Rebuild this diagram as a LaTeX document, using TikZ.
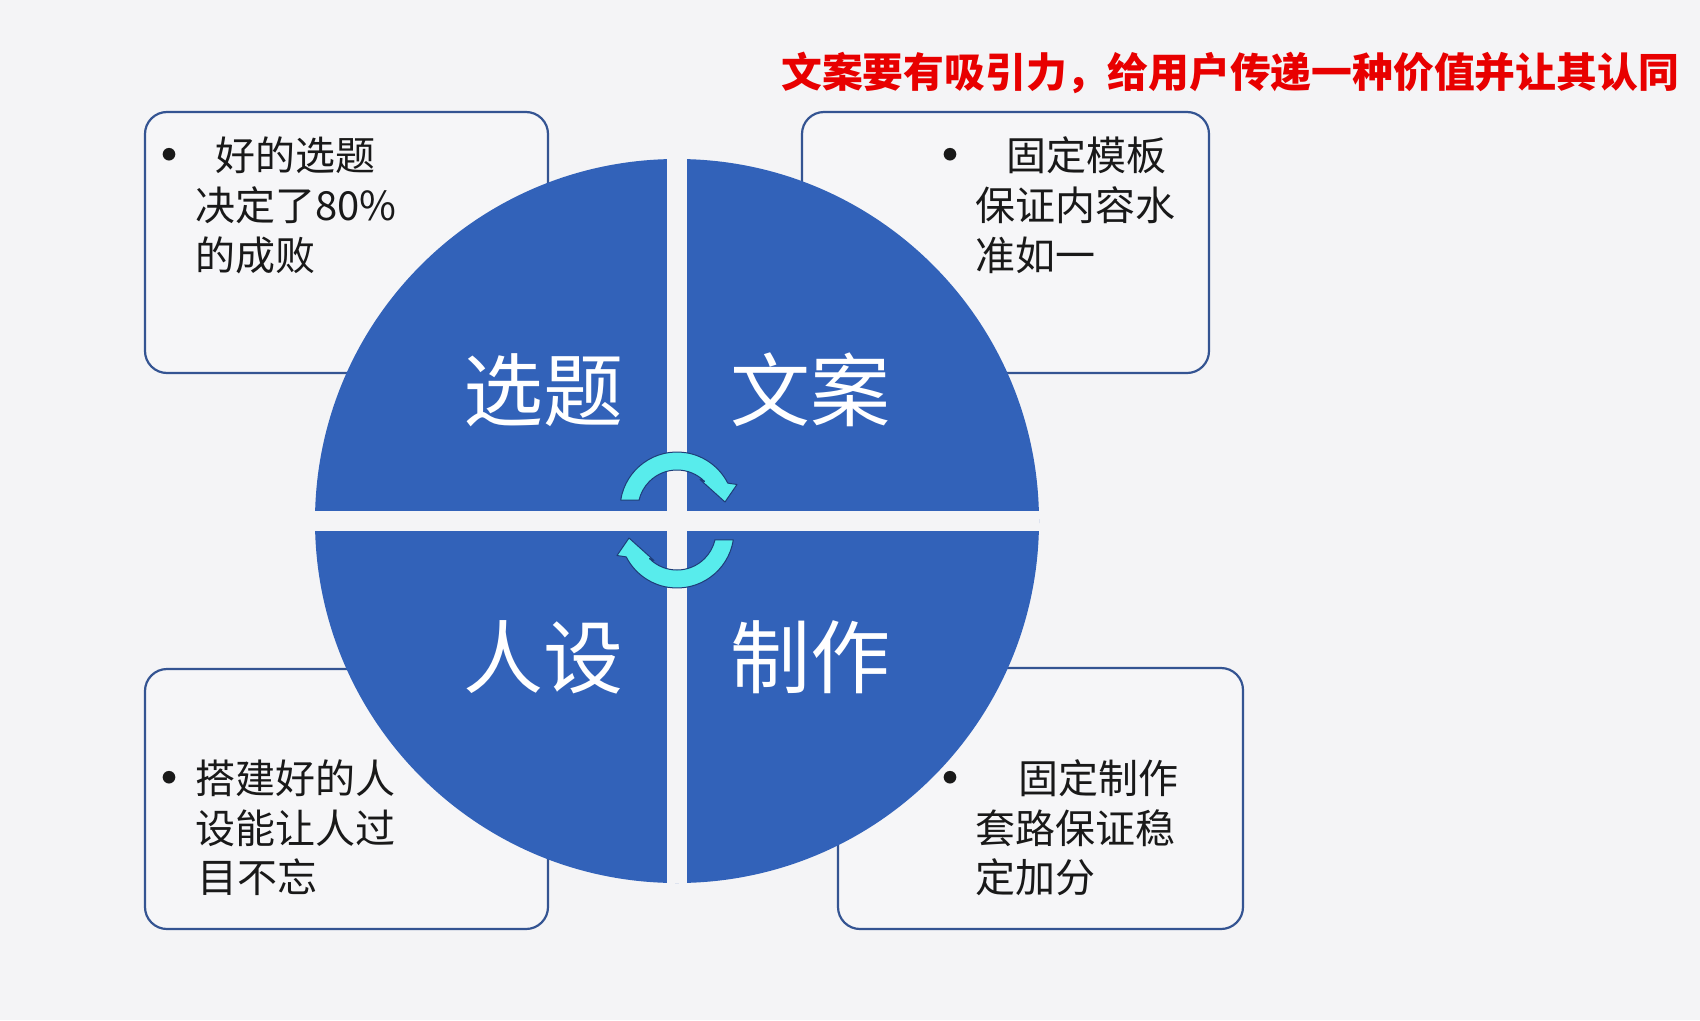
\documentclass[tikz,border=0pt]{standalone}
\usepackage{fontspec}
\newfontfamily\cjk{Noto Sans CJK SC}
\definecolor{bgc}{RGB}{244,244,246}
\definecolor{boxc}{RGB}{52,84,146}
\definecolor{boxfill}{RGB}{246,246,248}
\definecolor{qblue}{RGB}{50,98,185}
\definecolor{arrc}{RGB}{88,236,236}
\definecolor{arredge}{RGB}{30,60,120}
\definecolor{txtc}{RGB}{25,25,25}
\definecolor{titlered}{RGB}{232,0,0}
\begin{document}
\begin{tikzpicture}[x=1pt,y=-1pt,
  infobox/.style={draw=boxc, line width=2.2pt, fill=boxfill, rounded corners=22pt, inner sep=0pt},
  boxline/.style={anchor=base west, inner sep=0pt, text=txtc, font=\cjk\fontsize{40}{50}\selectfont},
  bul/.style={anchor=base, inner sep=0pt, text=txtc, font=\cjk\fontsize{60}{60}\selectfont},
  biglabel/.style={anchor=base, inner sep=0pt, text=white, font=\cjk\fontsize{80}{96}\selectfont},
  titletext/.style={anchor=base west, inner sep=0pt, text=titlered, font=\cjk\bfseries\fontsize{40.8}{48}\selectfont},
  cyc/.style={fill=arrc, draw=arredge, line width=1pt, line join=round},
  cycarrow/.pic={
    \path[cyc] (-171:57) arc[start angle=-171, end angle=-27, radius=57]
      -- (60,-24.5) -- (48,-7) -- (23,-29.5)
      -- (-45:39) arc[start angle=-45, end angle=-167, radius=39] -- cycle;
  }]
\useasboundingbox (0,0) rectangle (1700,1020);
\fill[bgc] (0,0) rectangle (1700,1020);

% title
\node[titletext] (title) at (781,87) {文案要有吸引力，给用户传递一种价值并让其认同};

% boxes
\node[infobox, minimum width=403pt, minimum height=261pt] (tl) at (346.5,242.5) {};
\node[infobox, minimum width=407pt, minimum height=261pt] (tr) at (1005.5,242.5) {};
\node[infobox, minimum width=403pt, minimum height=260pt] (bl) at (346.5,799) {};
\node[infobox, minimum width=405pt, minimum height=261pt] (br) at (1040.5,798.5) {};

% box texts
\node[bul] (tlb) at (169,177.5) {•};
\node[boxline] (tl1) at (215,170) {好的选题};
\node[boxline] (tl2) at (195,220) {决定了80\%};
\node[boxline] (tl3) at (195,270) {的成败};

\node[bul] (trb) at (950,177.5) {•};
\node[boxline] (tr1) at (1006,170) {固定模板};
\node[boxline] (tr2) at (975,220) {保证内容水};
\node[boxline] (tr3) at (975,270) {准如一};

\node[bul] (blb) at (169,800.5) {•};
\node[boxline] (bl1) at (195,793) {搭建好的人};
\node[boxline] (bl2) at (195,843) {设能让人过};
\node[boxline] (bl3) at (197,892) {目不忘};

\node[bul] (brb) at (950,800.5) {•};
\node[boxline] (br1) at (1018,793) {固定制作};
\node[boxline] (br2) at (975,843) {套路保证稳};
\node[boxline] (br3) at (975,892) {定加分};

% circle in four quadrants
\begin{scope}
  \clip (677,521) circle (362);
  \fill[qblue] (300,150) rectangle (1050,900);
  \fill[bgc] (667,150) rectangle (687,900);
  \fill[bgc] (300,511) rectangle (1050,531);
\end{scope}

% quadrant labels
\node[biglabel] (q1) at (543,420) {选题};
\node[biglabel] (q2) at (810,420) {文案};
\node[biglabel] (q3) at (543,687) {人设};
\node[biglabel] (q4) at (810,687) {制作};

% cycle arrows
\pic at (677,509) {cycarrow};
\pic[rotate=180] at (677,531) {cycarrow};
\end{tikzpicture}
\end{document}
